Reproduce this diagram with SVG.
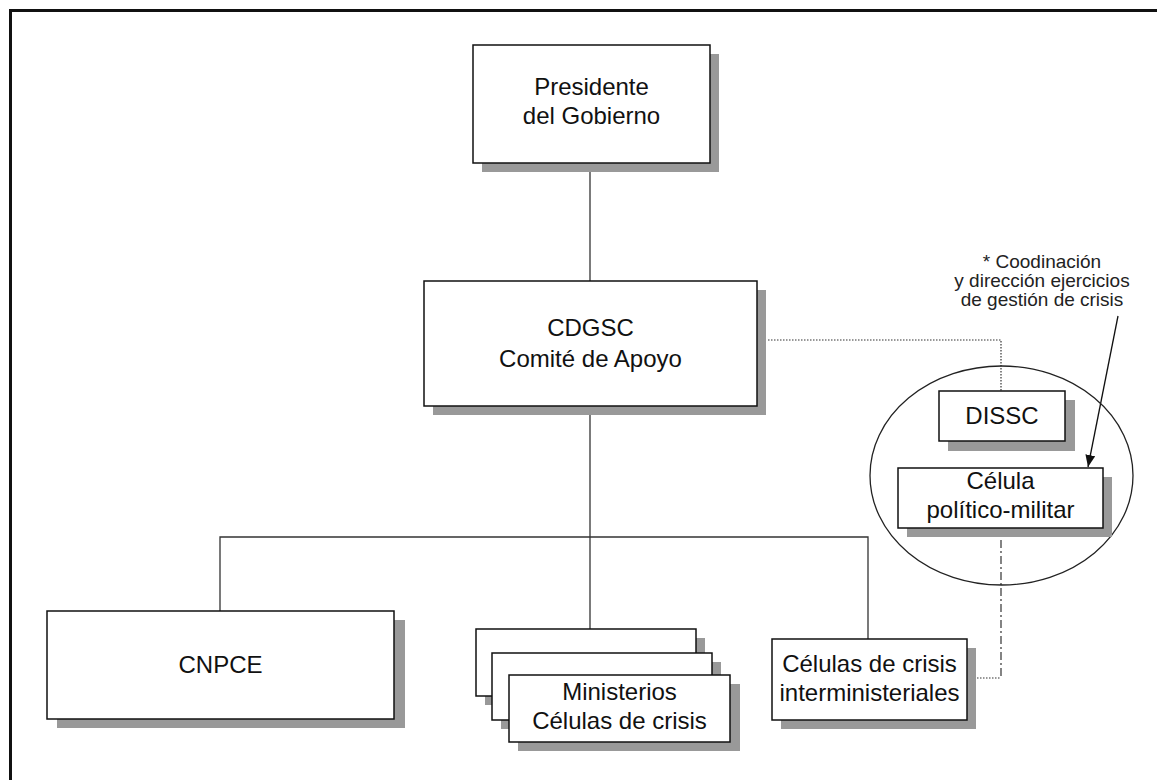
<svg xmlns="http://www.w3.org/2000/svg" width="1157" height="780" viewBox="0 0 1157 780">
<defs>
<style>
.box{fill:#fff;stroke:#111;stroke-width:1.5}
.sh{fill:#999}
.t{font-family:"Liberation Sans",Arial,sans-serif;font-size:24px;fill:#111;text-anchor:middle}
.s{font-family:"Liberation Sans",Arial,sans-serif;font-size:19px;fill:#222;text-anchor:middle}
.ln{fill:none;stroke:#333;stroke-width:1.3}
.dot{fill:none;stroke:#333;stroke-width:1.2;stroke-dasharray:1.5 1.5}
.dd{fill:none;stroke:#333;stroke-width:1.2;stroke-dasharray:8 3 2 3}
</style>
<marker id="ah" viewBox="0 0 12 10" refX="12" refY="5" markerWidth="12" markerHeight="10" markerUnits="userSpaceOnUse" orient="auto">
<path d="M0,0 L12,5 L0,10 z" fill="#111"/>
</marker>
</defs>
<rect width="1157" height="780" fill="#fff"/>
<path d="M10.5,780 V10.5 H1157" fill="none" stroke="#111" stroke-width="3"/>

<g id="connectors">
<line class="ln" x1="590" y1="163" x2="590" y2="281"/>
<line class="ln" x1="590" y1="406" x2="590" y2="629"/>
<polyline class="ln" points="220,611 220,537 868,537 868,639"/>
<polyline class="dot" points="768,340 1001,340 1001,391"/>
<line class="dd" x1="1001" y1="540" x2="1001" y2="678"/>
<line class="dot" x1="974" y1="678" x2="1001" y2="678"/>
<line x1="1118" y1="316" x2="1088" y2="467" stroke="#111" stroke-width="1.3" marker-end="url(#ah)"/>
</g>

<g id="presidente">
<rect class="sh" x="482" y="54" width="237" height="118"/>
<rect class="box" x="473" y="45" width="237" height="118"/>
<text class="t" x="591.5" y="95">Presidente</text>
<text class="t" x="591.5" y="124">del Gobierno</text>
</g>

<g id="cdgsc">
<rect class="sh" x="433" y="290" width="333" height="125"/>
<rect class="box" x="424" y="281" width="333" height="125"/>
<text class="t" x="590.5" y="336">CDGSC</text>
<text class="t" x="590.5" y="367">Comité de Apoyo</text>
</g>

<g id="grupo-dissc">
<ellipse cx="1001.5" cy="475.5" rx="131.5" ry="109.5" fill="none" stroke="#222" stroke-width="1.3"/>
</g>

<g id="dissc">
<rect class="sh" x="948" y="400" width="127" height="51"/>
<rect class="box" x="939" y="391" width="126" height="50"/>
<text class="t" x="1002" y="424">DISSC</text>
</g>

<g id="celula-pm">
<rect class="sh" x="907" y="477" width="205" height="60"/>
<rect class="box" x="898" y="468" width="205" height="60"/>
<text class="t" x="1000.5" y="489">Célula</text>
<text class="t" x="1000.5" y="518">político-militar</text>
</g>

<g id="nota">
<text class="s" x="1042" y="268">* Coodinación</text>
<text class="s" x="1042" y="287">y dirección ejercicios</text>
<text class="s" x="1042" y="306">de gestión de crisis</text>
</g>

<g id="cnpce">
<rect class="sh" x="57" y="620" width="348" height="108"/>
<rect class="box" x="47" y="611" width="347" height="108"/>
<text class="t" x="220.5" y="673">CNPCE</text>
</g>

<g id="ministerios">
<rect class="sh" x="485" y="638" width="220" height="67"/>
<rect class="box" x="476" y="629" width="220" height="67"/>
<rect class="sh" x="501" y="662" width="220" height="67"/>
<rect class="box" x="492" y="653" width="220" height="67"/>
<rect class="sh" x="518" y="684" width="222" height="67"/>
<rect class="box" x="509" y="675" width="221" height="67"/>
<text class="t" x="619.5" y="700">Ministerios</text>
<text class="t" x="619.5" y="729">Células de crisis</text>
</g>

<g id="celulas-inter">
<rect class="sh" x="781" y="648" width="195" height="81"/>
<rect class="box" x="772" y="639" width="195" height="81"/>
<text class="t" x="869.5" y="672">Células de crisis</text>
<text class="t" x="869.5" y="701">interministeriales</text>
</g>
</svg>
